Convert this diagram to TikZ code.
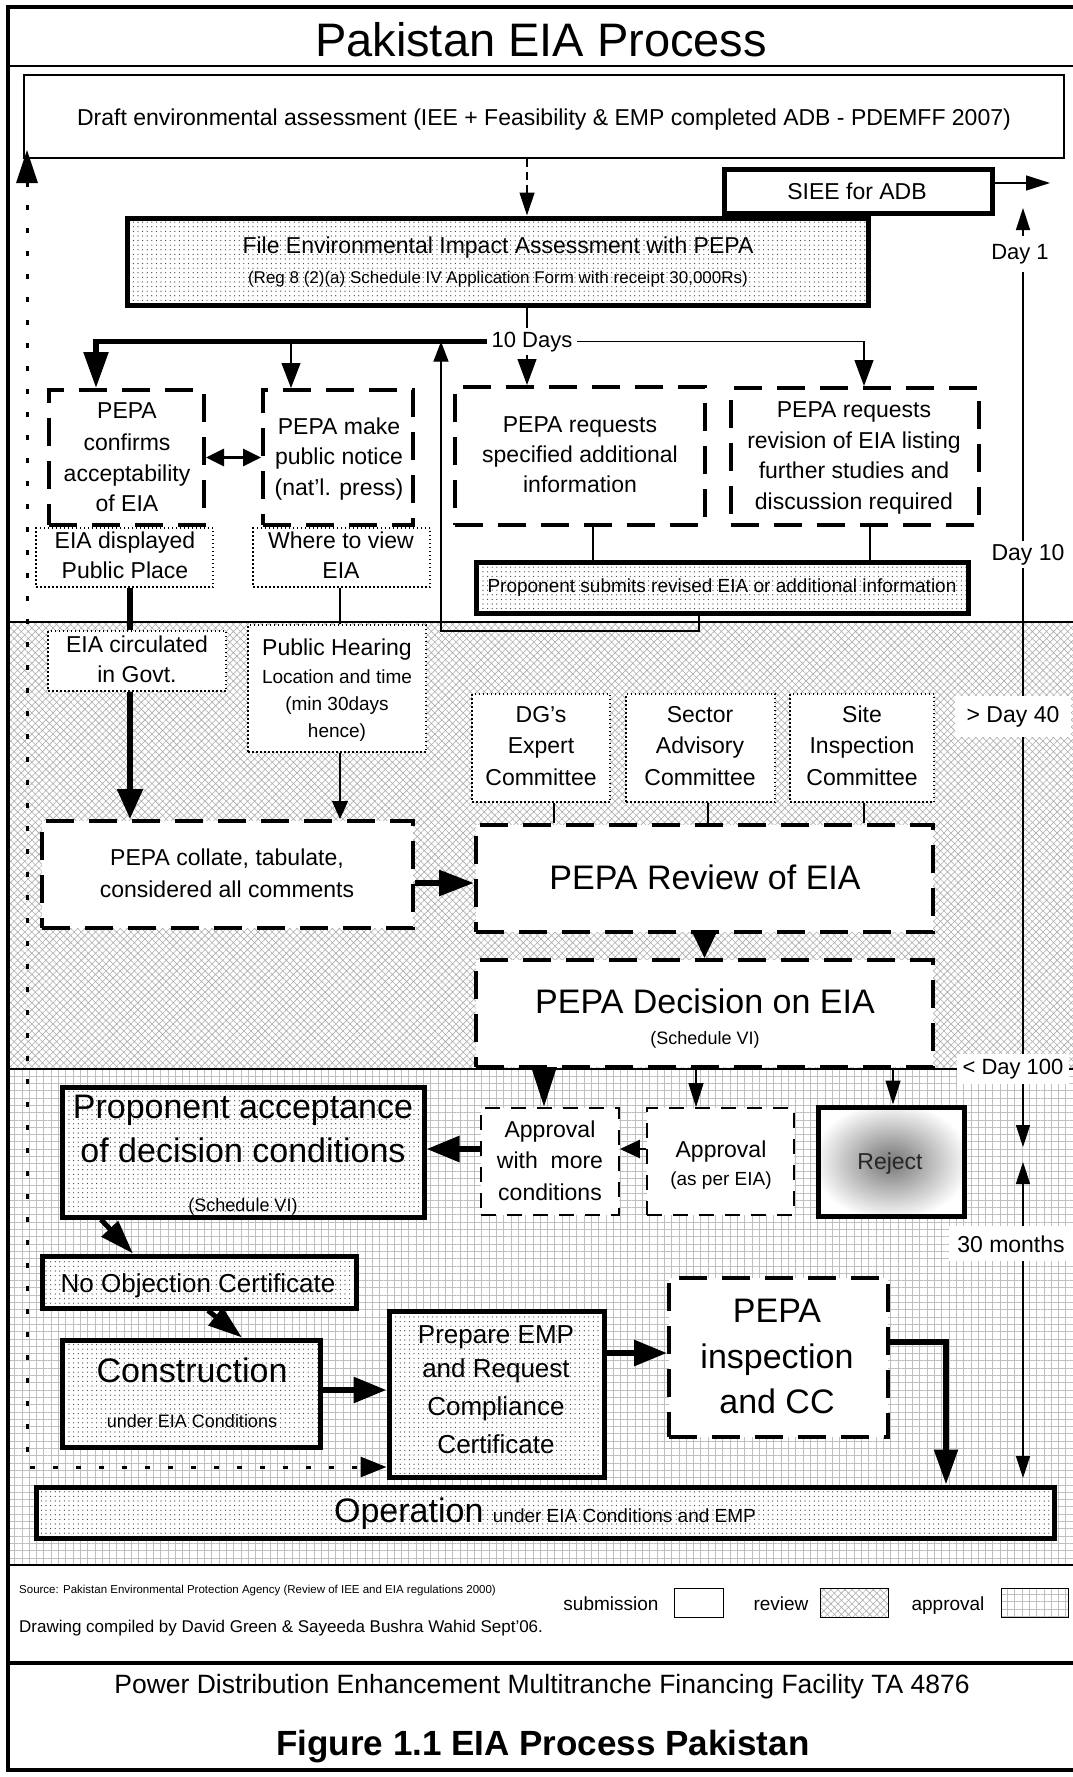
\documentclass[tikz,border=0pt]{standalone}
\usepackage{fontspec}
\setmainfont{Liberation Sans}
\usetikzlibrary{arrows.meta,patterns.meta}
\pgfdeclareradialshading{rejshade}{\pgfpoint{0bp}{0bp}}{color(0bp)=(black!50); color(4bp)=(black!46); color(27bp)=(white); color(50bp)=(white)}
\newcommand\tln[6][]{\node[anchor=base,inner sep=0pt,font=\fontsize{#5}{#5}\selectfont,#1] (#2) at (#3,#4) {#6};}
\newcommand\bx[7][]{\pgfmathsetmacro\bxcx{(#4+#6)/2}\pgfmathsetmacro\bxcy{(#5+#7)/2}\pgfmathsetmacro\bxw{#6-#4}\pgfmathsetmacro\bxh{#7-#5}\node[#2,minimum width=\bxw pt,minimum height=\bxh pt,inner sep=0pt,#1] (#3) at (\bxcx,\bxcy) {};}
\begin{document}
\begin{tikzpicture}[x=1pt,y=-1pt,
  sbox/.style={draw,line width=5pt,preaction={fill=white},pattern={Dots[distance=4.6pt,radius=0.6pt]},pattern color=black!80},
  dbox/.style={draw,line width=4pt,dash pattern=on 28pt off 15pt,fill=white},
  tdbox/.style={draw,line width=1.8pt,dash pattern=on 15pt off 11pt,fill=white},
  obox/.style={draw,line width=1.3pt,dash pattern=on 1.5pt off 2.5pt,fill=white},
  rbox/.style={draw,line width=5pt,shade,shading=rejshade},
  pbox/.style={draw,line width=1.2pt,fill=white},
  hatchfill/.style={pattern={Hatch[angle=45,distance=5pt,line width=0.6pt]},pattern color=black!32},
  gridfill/.style={pattern={Hatch[angle=0,distance=7.3pt,line width=0.8pt]},pattern color=black!25},
  thinline/.style={line width=1.2pt},
  thickline/.style={line width=5.5pt},
  arr/.style 2 args={-{Triangle[length=#1,width=#2]}},
  lab/.style={fill=white,inner xsep=4pt,inner ysep=3pt}]
\useasboundingbox (0,0) rectangle (1073,1777);
\clip (0,0) rectangle (1073,1777);
\fill[white] (0,0) rectangle (1073,1777);
% section backgrounds
\path[hatchfill] (8,622) rectangle (1080,1069);
\path[gridfill] (8,1069) rectangle (1080,1565);
% frame
\draw[line width=4pt] (1080,7) -- (8,7) -- (8,1770) -- (1080,1770);
\draw[line width=2pt] (8,66) -- (1080,66);
\draw[line width=1.5pt] (8,622) -- (1080,622);
\draw[line width=1.5pt] (8,1069) -- (1080,1069);
\draw[line width=2pt] (8,1565) -- (1080,1565);
\draw[line width=4.5pt] (8,1663) -- (1080,1663);
% boxes
\bx{pbox}{draft}{24}{75}{1064}{158}
\bx{draw,line width=5pt,fill=white}{siee}{724}{169}{992}{213}
\bx{sbox}{file}{127}{218}{868}{305}
\bx{dbox}{conf}{49}{390}{204}{525}
\bx{dbox}{make}{263}{390}{413}{525}
\bx{dbox}{spec}{455}{387}{705}{525}
\bx{dbox}{rev}{731}{388}{979}{525}
\bx{obox}{disp}{36}{528}{213}{587}
\bx{obox}{where}{253}{528}{430}{587}
\bx{sbox}{sub}{476}{562}{968}{613}
\bx{obox}{circ}{48}{631}{226}{691}
\bx{obox}{ph}{248}{625}{426}{752}
\bx{obox}{dg}{472}{694}{610}{802}
\bx{obox}{sec}{626}{694}{775}{802}
\bx{obox}{site}{790}{694}{934}{802}
\bx{dbox}{coll}{42}{821}{413}{928}
\bx{dbox}{review}{476}{825}{933}{932}
\bx{dbox}{dec}{476}{960}{933}{1067}
\bx{tdbox}{wm}{481}{1108}{619}{1215}
\bx{tdbox}{ap}{647}{1108}{794}{1215}
\bx{rbox}{rej}{818}{1107}{964}{1216}
\bx{sbox}{pa}{62}{1087}{424}{1217}
\bx{sbox}{noc}{42}{1256}{356}{1308}
\bx{sbox}{cons}{62}{1340}{320}{1447}
\bx{sbox}{prep}{389}{1311}{604}{1477}
\bx{dbox}{insp}{669}{1278}{888}{1437}
\bx{sbox}{op}{36}{1487}{1054}{1538}
% legend boxes
\bx{draw,line width=1pt,fill=white}{lg1}{674}{1588}{723}{1617}
\bx{draw,line width=1pt,preaction={fill=white},hatchfill}{lg2}{820}{1588}{888}{1617}
\bx{draw,line width=1pt,preaction={fill=white},gridfill}{lg3}{1001}{1588}{1068}{1617}
% 10 days label
\tln[lab]{tenday}{532}{347}{22}{10 Days}
% connectors
\coordinate (xa) at (527,0);
\draw[thinline,dash pattern=on 8pt off 5pt,arr={23pt}{15pt}] (draft.south -| xa) -- (file.north -| xa);
\draw[thinline] (file.south -| xa) -- (tenday.north -| xa);
\coordinate (xb) at (96,0);
\draw[thickline,arr={36pt}{24pt}] (tenday.west) -| (conf.north -| xb);
\coordinate (xc) at (864,0);
\draw[thinline,arr={26pt}{19pt}] (tenday.east) -| (rev.north -| xc);
\coordinate (xd) at (291,0);
\draw[thinline,arr={25pt}{19pt}] (tenday.west -| xd) -- (make.north -| xd);
\draw[thinline,arr={26pt}{19pt}] (tenday.south -| xa) -- (spec.north -| xa);
\coordinate (r1) at (699,631);
\coordinate (r2) at (441,631);
\draw[thinline,arr={20pt}{15pt}] (sub.south -| r1) -- (r1) -- (r2) -- (tenday.west -| r2);
\coordinate (x5) at (593,0);
\draw[thinline] (spec.south -| x5) -- (sub.north -| x5);
\coordinate (x6) at (870,0);
\draw[thinline] (rev.south -| x6) -- (sub.north -| x6);
\draw[line width=3pt,{Triangle[length=18pt,width=17pt]}-{Triangle[length=18pt,width=17pt]}] (conf.east) -- (make.west);
\coordinate (x7) at (130,0);
\draw[thickline] (disp.south -| x7) -- (circ.north -| x7);
\draw[thickline,arr={30pt}{25pt}] (circ.south -| x7) -- (coll.north -| x7);
\coordinate (x8) at (340,0);
\draw[thinline] (where.south -| x8) -- (ph.north -| x8);
\draw[thinline,arr={18pt}{16pt}] (ph.south -| x8) -- (coll.north -| x8);
\coordinate (y1) at (0,883);
\draw[line width=6pt,arr={35pt}{25pt}] (coll.east |- y1) -- (review.west |- y1);
\coordinate (x9) at (554,0);
\draw[thinline] (dg.south -| x9) -- (review.north -| x9);
\coordinate (x9b) at (708,0);
\draw[thinline] (sec.south -| x9b) -- (review.north -| x9b);
\coordinate (x9c) at (864,0);
\draw[thinline] (site.south -| x9c) -- (review.north -| x9c);
\draw[line width=3pt,arr={26pt}{24pt}] (review.south) -- (dec.north);
\coordinate (x10) at (544,0);
\draw[thickline,arr={40pt}{24pt}] (dec.south -| x10) -- (wm.north -| x10);
\coordinate (x11) at (696,0);
\draw[thinline,arr={24pt}{15pt}] (dec.south -| x11) -- (ap.north -| x11);
\coordinate (x12) at (893,0);
\draw[thinline,arr={24pt}{15pt}] (dec.south -| x12) -- (rej.north -| x12);
\coordinate (y2) at (0,1149);
\draw[line width=2.5pt,arr={20pt}{18pt}] (ap.west |- y2) -- (wm.east |- y2);
\draw[line width=6pt,arr={33pt}{25pt}] (wm.west |- y2) -- (pa.east |- y2);
\coordinate (x13) at (101,0);
\coordinate (x14) at (133,0);
\draw[line width=5pt,arr={34pt}{22pt}] (pa.south -| x13) -- (noc.north -| x14);
\coordinate (x15) at (208,0);
\coordinate (x16) at (242,0);
\draw[line width=5pt,arr={34pt}{22pt}] (noc.south -| x15) -- (cons.north -| x16);
\coordinate (y3) at (0,1390);
\draw[line width=6pt,arr={33pt}{25pt}] (cons.east |- y3) -- (prep.west |- y3);
\coordinate (y4) at (0,1353);
\draw[line width=6pt,arr={33pt}{25pt}] (prep.east |- y4) -- (insp.west |- y4);
\coordinate (y5) at (0,1342);
\coordinate (x17) at (946,0);
\draw[thickline,arr={35pt}{23pt}] (insp.east |- y5) -| (op.north -| x17);
% SIEE arrow
\coordinate (s1) at (1050,183);
\draw[line width=1.5pt,arr={24pt}{15pt}] (siee.east |- s1) -- (s1);
% dotted return arrow
\coordinate (d1) at (27,150);
\coordinate (d2) at (27,1467);
\draw[line width=3pt,dash pattern=on 5pt off 18pt,{Triangle[length=33pt,width=21pt]}-{Triangle[length=26pt,width=20pt]}] (d1) -- (d2) -- (prep.west |- d2);
% timeline
\coordinate (t1) at (1023,208);
\coordinate (t2) at (1023,1147);
\draw[line width=1.3pt,{Triangle[length=22pt,width=14pt]}-{Triangle[length=22pt,width=14pt]}] (t1) -- (t2);
\coordinate (t3) at (1023,1162);
\coordinate (t4) at (1023,1478);
\draw[line width=1.3pt,{Triangle[length=22pt,width=14pt]}-{Triangle[length=22pt,width=14pt]}] (t3) -- (t4);
\tln[fill=white,inner xsep=3pt,inner ysep=8pt]{day1}{1020}{259}{22}{Day 1}
\tln[lab]{day10}{1028}{560}{23}{Day 10}
\tln[fill=white,inner xsep=12pt,inner ysep=10pt]{day40}{1013}{722}{23}{> Day 40}
\tln[fill=white,inner xsep=6pt,inner ysep=5pt]{day100}{1013}{1074}{22}{< Day 100}
\tln[fill=white,inner xsep=8pt,inner ysep=9pt]{m30}{1011}{1252}{23}{30 months}
% texts
\tln{title}{541}{57}{47}{Pakistan EIA Process}
\tln{drafttxt}{544}{125}{23}{Draft environmental assessment (IEE + Feasibility \& EMP completed ADB - PDEMFF 2007)}
\tln{sieetxt}{857}{199}{23}{SIEE for ADB}
\tln{filea}{498}{253}{23}{File Environmental Impact Assessment with PEPA}
\tln{fileb}{498}{283}{17}{(Reg 8 (2)(a) Schedule IV Application Form with receipt 30,000Rs)}
\tln{confa}{127}{418}{23}{PEPA}
\tln{confb}{127}{450}{23}{confirms}
\tln{confc}{127}{481}{23}{acceptability}
\tln{confd}{127}{511}{23}{of EIA}
\tln{makea}{339}{434}{23}{PEPA make}
\tln{makeb}{339}{464}{23}{public notice}
\tln{makec}{339}{495}{23}{(nat’l. press)}
\tln{speca}{580}{432}{23}{PEPA requests}
\tln{specb}{580}{462}{23}{specified additional}
\tln{specc}{580}{492}{23}{information}
\tln{reva}{854}{417}{23}{PEPA requests}
\tln{revb}{854}{448}{23}{revision of EIA listing}
\tln{revc}{854}{478}{23}{further studies and}
\tln{revd}{854}{509}{23}{discussion required}
\tln{dispa}{125}{548}{23}{EIA displayed}
\tln{dispb}{125}{578}{23}{Public Place}
\tln{wherea}{341}{548}{23}{Where to view}
\tln{whereb}{341}{578}{23}{EIA}
\tln{subtxt}{722}{592}{19}{Proponent submits revised EIA or additional information}
\tln{circa}{137}{652}{23}{EIA circulated}
\tln{circb}{137}{682}{23}{in Govt.}
\tln{pha}{337}{655}{23}{Public Hearing}
\tln{phb}{337}{683}{19}{Location and time}
\tln{phc}{337}{710}{19}{(min 30days}
\tln{phd}{337}{737}{19}{hence)}
\tln{dga}{541}{722}{23}{DG’s}
\tln{dgb}{541}{753}{23}{Expert}
\tln{dgc}{541}{785}{23}{Committee}
\tln{seca}{700}{722}{23}{Sector}
\tln{secb}{700}{753}{23}{Advisory}
\tln{secc}{700}{785}{23}{Committee}
\tln{sitea}{862}{722}{23}{Site}
\tln{siteb}{862}{753}{23}{Inspection}
\tln{sitec}{862}{785}{23}{Committee}
\tln{colla}{227}{865}{23}{PEPA collate, tabulate,}
\tln{collb}{227}{897}{23}{considered all comments}
\tln{reviewtxt}{705}{889}{34}{PEPA Review of EIA}
\tln{deca}{705}{1013}{34}{PEPA Decision on EIA}
\tln{decb}{705}{1044}{18}{(Schedule VI)}
\tln{wma}{550}{1137}{23}{Approval}
\tln{wmb}{550}{1168}{23}{with~ more}
\tln{wmc}{550}{1200}{23}{conditions}
\tln{apa}{721}{1157}{23}{Approval}
\tln{apb}{721}{1185}{19}{(as per EIA)}
\tln[text=black!85]{rejtxt}{890}{1169}{23}{Reject}
\tln{paa}{243}{1118}{34}{Proponent acceptance}
\tln{pab}{243}{1162}{34}{of decision conditions}
\tln{pac}{243}{1211}{18}{(Schedule VI)}
\tln{noctxt}{198}{1292}{26}{No Objection Certificate}
\tln{consa}{192}{1382}{34}{Construction}
\tln{consb}{192}{1427}{18}{under EIA Conditions}
\tln{prepa}{496}{1343}{26}{Prepare EMP}
\tln{prepb}{496}{1377}{26}{and Request}
\tln{prepc}{496}{1415}{26}{Compliance}
\tln{prepd}{496}{1453}{26}{Certificate}
\tln{inspa}{777}{1322}{34}{PEPA}
\tln{inspb}{777}{1368}{34}{inspection}
\tln{inspc}{777}{1413}{34}{and CC}
\tln{optxt}{545}{1522}{34}{Operation {\fontsize{19}{19}\selectfont under EIA Conditions and EMP}}
% footer
\tln[anchor=base west]{src}{19}{1593}{11.5}{Source: Pakistan Environmental Protection Agency (Review of IEE and EIA regulations 2000)}
\tln[anchor=base west]{drawn}{19}{1632}{17}{Drawing compiled by David Green \& Sayeeda Bushra Wahid Sept’06.}
\tln{lgt1}{611}{1610}{19}{submission}
\tln{lgt2}{781}{1610}{19}{review}
\tln{lgt3}{948}{1610}{19}{approval}
\tln{power}{542}{1693}{26.5}{Power Distribution Enhancement Multitranche Financing Facility TA 4876}
\tln{figcap}{543}{1755}{35}{\bfseries Figure 1.1 EIA Process Pakistan}
\end{tikzpicture}
\end{document}
